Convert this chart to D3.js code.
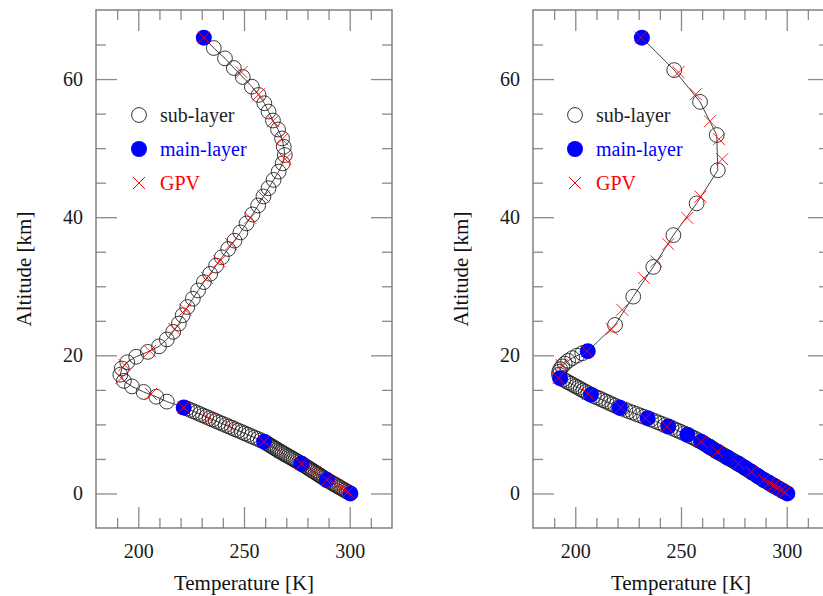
<!DOCTYPE html>
<html>
<head>
<meta charset="utf-8">
<title>temperature profiles</title>
<script src="https://cdn.jsdelivr.net/npm/d3@7"></script>
<style>
  body { margin: 0; background: #fff; }
  text { font-family: "Liberation Serif", "Times New Roman", serif; }
</style>
</head>
<body>
<script>
    // every point is [altitude km, temperature K]
    var gpv = [[66, 231], [61.0, 248.8], [57.8, 257], [53.9, 263.7], [51.3, 268], [48.4, 269.5],
        [43.0, 259.2], [39.9, 253], [36.1, 244], [33.6, 238.4], [31.2, 232.5], [26.6, 222.2],
        [23.8, 217.2], [20.6, 205.5], [18.6, 193.5], [16.7, 192], [14.4, 206], [12.45, 221.5],
        [10.9, 233.2], [9.7, 243.3], [7.5, 259.5], [6.05, 267.2], [4.3, 277.2], [3.1, 283.3],
        [1.95, 289.2], [1.5, 291.8], [1.15, 293.7], [0.8, 295.7], [0.5, 297.5], [0.2, 299.2]];

    var leftMain = [[66, 231], [12.45, 221.5], [7.5, 259.5], [4.3, 277.2], [1.95, 289.2], [0, 300.3]];

    var leftSub = [[64.5, 235.7], [63.0, 241], [61.6, 245.2], [60.3, 249.4], [58.9, 253.7], [57.7, 256.9],
        [56.5, 259.6], [55.3, 261.6], [54.0, 263.7], [52.7, 266.1], [51.4, 268], [50.2, 268.8],
        [49.0, 269.3], [47.8, 268.3], [46.6, 266.4], [45.4, 264], [44.2, 261.6], [43.0, 259.2],
        [41.7, 256.7], [40.4, 254], [39.1, 251.2], [37.8, 248.3], [36.6, 245.5], [35.4, 242.5],
        [34.2, 239.5], [33.0, 236.8], [31.8, 234], [30.6, 231], [29.4, 228.3], [28.2, 225.8],
        [27.0, 223.2], [25.8, 221], [24.6, 219.2], [23.4, 216.5], [22.3, 213.5], [21.3, 209.8],
        [20.5, 204.5], [19.8, 199], [19.0, 194.8], [18.1, 192.2], [17.2, 191.5], [16.3, 193.2],
        [15.5, 197], [14.7, 202.5], [14.0, 208.5], [13.3, 213.5],
        [12.3, 223.0], [12.1, 224.5], [11.9, 226.1], [11.7, 227.6], [11.5, 229.1], [11.3, 230.6],
        [11.1, 232.1], [10.9, 233.7], [10.7, 235.2], [10.5, 236.7], [10.3, 238.2], [10.1, 239.7],
        [9.9, 241.3], [9.7, 242.8], [9.5, 244.3], [9.3, 245.8], [9.1, 247.3], [8.9, 248.9],
        [8.7, 250.4], [8.5, 251.9], [8.3, 253.4], [8.1, 254.9], [7.9, 256.5], [7.7, 258.0]];

    var rightMain = [[66, 231.5], [20.6, 205.9], [16.7, 192.8], [14.3, 207.4], [12.4, 221.1], [10.9, 234.2],
        [9.7, 244], [8.5, 253], [7.5, 259.5], [6.75, 263.5], [6.05, 267.2], [5.2, 272], [4.3, 277.2],
        [3.7, 280.3], [3.1, 283.4], [2.5, 286.4], [1.95, 289.2], [1.5, 291.8], [1.1, 294],
        [0.7, 296.3], [0.35, 298.3], [0, 300.3]];

    var rightSub = [[61.3, 246.8], [56.7, 259], [51.9, 266.9], [46.8, 267.4], [42.0, 257.4], [37.4, 246.4],
        [32.8, 236.9], [28.5, 227.4], [24.4, 218.8],
        [20.3, 203.3], [19.95, 200.8], [19.6, 198.6], [19.2, 196.6], [18.8, 195], [18.4, 193.8],
        [18.0, 192.9], [17.6, 192.4], [17.2, 192.3],
        [16.5, 194.3], [16.3, 195.5], [16.1, 196.7], [15.9, 197.9], [15.7, 199.1], [15.5, 200.3],
        [15.3, 201.5], [15.1, 202.6], [14.9, 203.8], [14.7, 205.0], [14.5, 206.2], [14.1, 208.8],
        [13.9, 210.3], [13.7, 211.8], [13.5, 213.2], [13.3, 214.6], [13.1, 216.1], [12.9, 217.5],
        [12.7, 218.9], [12.5, 220.4], [12.3, 221.9], [12.1, 223.7], [11.9, 225.4], [11.7, 227.2],
        [11.5, 228.9], [11.3, 230.7], [11.1, 232.5], [10.7, 235.8], [10.5, 237.5], [10.3, 239.1],
        [10.1, 240.7], [9.9, 242.4], [9.5, 245.5], [9.3, 247.0], [9.1, 248.5], [8.9, 250.0],
        [8.7, 251.5], [8.3, 254.3], [8.1, 255.6], [7.9, 256.9], [7.7, 258.2]];

    // lowest sub-layers, the same in both runs
    var lowSub = [[7.35, 260.3], [7.2, 261.1], [7.05, 261.9], [6.9, 262.7], [6.75, 263.5], [6.6, 264.3],
        [6.45, 265.1], [6.3, 265.9], [6.15, 266.7], [6.0, 267.5], [5.85, 268.3], [5.7, 269.2],
        [5.55, 270.1], [5.4, 270.9], [5.25, 271.8], [5.1, 272.6], [4.95, 273.5], [4.8, 274.3],
        [4.65, 275.2], [4.5, 276.1], [4.35, 276.9], [4.2, 277.7], [4.05, 278.5], [3.9, 279.3],
        [3.75, 280.1], [3.6, 280.8], [3.45, 281.6], [3.3, 282.4], [3.15, 283.1], [3.0, 283.9],
        [2.85, 284.7], [2.7, 285.4], [2.55, 286.2], [2.4, 286.9], [2.25, 287.7], [2.1, 288.4],
        [1.95, 289.2], [1.8, 290.1], [1.65, 290.9], [1.5, 291.8], [1.35, 292.6], [1.2, 293.5],
        [1.05, 294.3], [0.9, 295.2], [0.75, 296.0], [0.6, 296.9], [0.45, 297.7], [0.3, 298.6],
        [0.15, 299.4]];

    var xMajor = [200, 250, 300],
        xMinor = [190, 210, 220, 230, 240, 260, 270, 280, 290, 310],
        yMajor = [0, 20, 40, 60],
        yMinor = [5, 10, 15, 25, 30, 35, 45, 50, 55, 65];

    var legendLabels = ['sub-layer', 'main-layer', 'GPV'],
        legendColors = ['#222', '#0000ff', '#ff0000'];

    var width = 823,
        height = 596,
        pw = 296,
        plotTop = 10,
        plotBottom = 528;

    var svg = d3.select('body')
        .append('svg')
        .attr('width', width)
        .attr('height', height);

    var panels = [
        { x0: 96, main: leftMain, sub: leftSub.concat(lowSub), legendX: 139 },
        { x0: 533, main: rightMain, sub: rightSub.concat(lowSub), legendX: 575 }
    ];

    function styleAxis(sel) {
        sel.select('.domain').remove();
        sel.selectAll('line').attr('stroke', '#8a8a8a').attr('stroke-width', 1.3);
        sel.attr('font-size', 20)
            .attr('font-family', '"Liberation Serif", "Times New Roman", serif');
        sel.selectAll('text').attr('fill', '#1a1a1a');
    }

    function cross(cx, cy, s) {
        return 'M' + (cx - s) + ',' + (cy - s) + 'L' + (cx + s) + ',' + (cy + s) +
            'M' + (cx - s) + ',' + (cy + s) + 'L' + (cx + s) + ',' + (cy - s);
    }

    panels.forEach(function (p) {
        var x = d3.scaleLinear().domain([180, 320]).range([p.x0, p.x0 + pw]);
        var y = d3.scaleLinear().domain([-5, 70]).range([plotBottom, plotTop]);
        var g = svg.append('g');

        // ticks on all four sides, pointing in
        var none = function () { return ''; };
        g.append('g').attr('transform', 'translate(0,' + plotBottom + ')')
            .call(d3.axisBottom(x).tickValues(xMajor).tickSize(-21).tickPadding(16).tickFormat(d3.format('d')))
            .call(styleAxis);
        g.append('g').attr('transform', 'translate(0,' + plotBottom + ')')
            .call(d3.axisBottom(x).tickValues(xMinor).tickSize(-10).tickFormat(none))
            .call(styleAxis);
        g.append('g').attr('transform', 'translate(0,' + plotTop + ')')
            .call(d3.axisTop(x).tickValues(xMajor).tickSize(-21).tickFormat(none))
            .call(styleAxis);
        g.append('g').attr('transform', 'translate(0,' + plotTop + ')')
            .call(d3.axisTop(x).tickValues(xMinor).tickSize(-10).tickFormat(none))
            .call(styleAxis);
        g.append('g').attr('transform', 'translate(' + p.x0 + ',0)')
            .call(d3.axisLeft(y).tickValues(yMajor).tickSize(-21).tickPadding(13).tickFormat(d3.format('d')))
            .call(styleAxis);
        g.append('g').attr('transform', 'translate(' + p.x0 + ',0)')
            .call(d3.axisLeft(y).tickValues(yMinor).tickSize(-10).tickFormat(none))
            .call(styleAxis);
        g.append('g').attr('transform', 'translate(' + (p.x0 + pw) + ',0)')
            .call(d3.axisRight(y).tickValues(yMajor).tickSize(-21).tickFormat(none))
            .call(styleAxis);
        g.append('g').attr('transform', 'translate(' + (p.x0 + pw) + ',0)')
            .call(d3.axisRight(y).tickValues(yMinor).tickSize(-10).tickFormat(none))
            .call(styleAxis);

        g.append('rect')
            .attr('x', p.x0).attr('y', plotTop)
            .attr('width', pw).attr('height', plotBottom - plotTop)
            .attr('fill', 'none')
            .attr('stroke', '#777')
            .attr('stroke-width', 1.4);

        // axis titles
        g.append('text')
            .attr('x', p.x0 + pw / 2).attr('y', 590)
            .attr('text-anchor', 'middle')
            .attr('font-size', 21)
            .attr('fill', '#111')
            .text('Temperature [K]');
        g.append('text')
            .attr('transform', 'translate(' + (p.x0 - 65) + ',' + ((plotTop + plotBottom) / 2) + ') rotate(-90)')
            .attr('text-anchor', 'middle')
            .attr('font-size', 21)
            .attr('fill', '#111')
            .text('Altitude [km]');

        // connecting line through every layer
        var all = p.sub.concat(p.main).sort(function (a, b) { return a[0] - b[0]; });
        g.append('path')
            .datum(all)
            .attr('fill', 'none')
            .attr('stroke', '#444')
            .attr('stroke-width', 1)
            .attr('d', d3.line().x(function (d) { return x(d[1]); }).y(function (d) { return y(d[0]); }));

        g.selectAll('circle.sub')
            .data(p.sub)
            .join('circle')
            .attr('class', 'sub')
            .attr('cx', function (d) { return x(d[1]); })
            .attr('cy', function (d) { return y(d[0]); })
            .attr('r', 7.4)
            .attr('fill', 'none')
            .attr('stroke', '#1a1a1a')
            .attr('stroke-opacity', 0.9)
            .attr('stroke-width', 0.95);

        g.selectAll('circle.main')
            .data(p.main)
            .join('circle')
            .attr('class', 'main')
            .attr('cx', function (d) { return x(d[1]); })
            .attr('cy', function (d) { return y(d[0]); })
            .attr('r', 8)
            .attr('fill', '#0000ff');

        g.selectAll('path.gpv')
            .data(gpv)
            .join('path')
            .attr('class', 'gpv')
            .attr('d', function (d) { return cross(x(d[1]), y(d[0]), 6); })
            .attr('fill', 'none')
            .attr('stroke', '#ff0000')
            .attr('stroke-opacity', 0.85)
            .attr('stroke-width', 1);

        // legend
        var ly = [115, 149, 183];
        g.append('circle').attr('cx', p.legendX).attr('cy', ly[0]).attr('r', 7.4)
            .attr('fill', 'none').attr('stroke', '#333').attr('stroke-width', 1);
        g.append('circle').attr('cx', p.legendX).attr('cy', ly[1]).attr('r', 8)
            .attr('fill', '#0000ff');
        g.append('path').attr('d', cross(p.legendX, ly[2], 6))
            .attr('stroke', '#ff0000').attr('stroke-width', 1).attr('fill', 'none');
        legendLabels.forEach(function (t, i) {
            g.append('text')
                .attr('x', p.legendX + 21).attr('y', ly[i])
                .attr('dy', '0.35em')
                .attr('font-size', 20)
                .attr('fill', legendColors[i])
                .text(t);
        });
    });
</script>
</body>
</html>
